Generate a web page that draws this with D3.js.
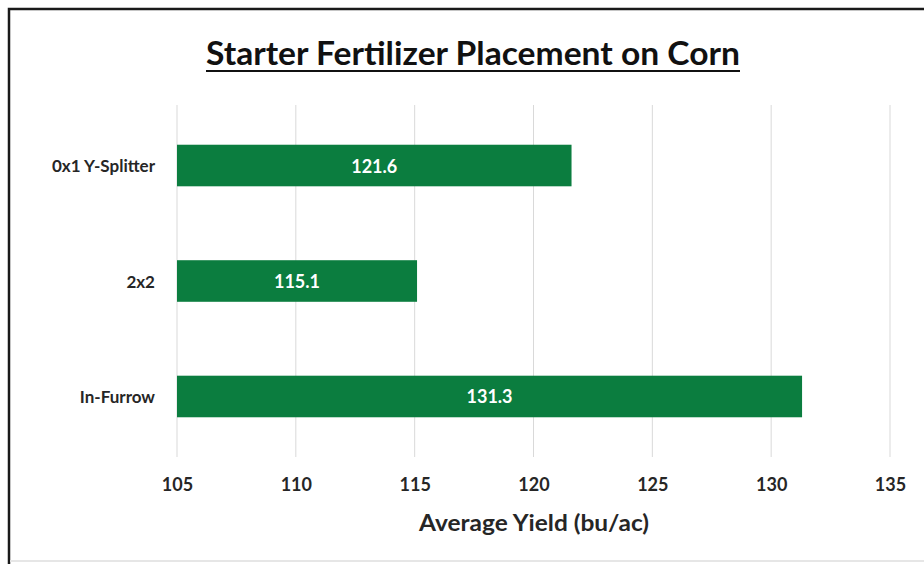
<!DOCTYPE html>
<html>
<head>
<meta charset="utf-8">
<script src="https://cdn.jsdelivr.net/npm/d3@7"></script>
<style>
  body { margin: 0; background: #fff; }
  svg { display: block; font-family: Lato, "Open Sans", sans-serif; }
</style>
</head>
<body>
<script>
// 数据
const categories = ['0x1 Y-Splitter', '2x2', 'In-Furrow'];
const yields = [121.6, 115.1, 131.3];
const xTicks = [105, 110, 115, 120, 125, 130, 135];

const width = 924, height = 564;
const margin = { top: 105, right: 31, bottom: 107, left: 177 };

const svg = d3.select('body').append('svg')
    .attr('width', width)
    .attr('height', height);

// 外框
svg.append('rect')
    .attr('x', 9).attr('y', 9)
    .attr('width', width + 10).attr('height', height + 10)
    .attr('fill', '#fff')
    .attr('stroke', '#1a1a1a')
    .attr('stroke-width', 2.5);
svg.append('line')
    .attr('x1', 10).attr('x2', width)
    .attr('y1', 561).attr('y2', 561)
    .attr('stroke', '#e6e6e6')
    .attr('stroke-width', 2);

const x = d3.scaleLinear()
    .domain([105, 135])
    .range([margin.left, width - margin.right - 3]);

const y = d3.scaleBand()
    .domain(categories)
    .range([margin.top, height - margin.bottom])
    .paddingInner(0.64)
    .paddingOuter(0.344);

// 网格线
svg.append('g')
    .selectAll('line')
    .data(xTicks)
    .enter().append('line')
    .attr('x1', d => x(d)).attr('x2', d => x(d))
    .attr('y1', margin.top).attr('y2', height - margin.bottom)
    .attr('stroke', '#d9d9d9')
    .attr('stroke-width', 1);

// 条形
svg.selectAll('.bar')
    .data(categories)
    .enter().append('rect')
    .attr('class', 'bar')
    .attr('x', x(105))
    .attr('y', d => y(d))
    .attr('width', (d, i) => x(yields[i]) - x(105))
    .attr('height', y.bandwidth())
    .attr('fill', '#0b7d3f');

// 条形数值
svg.selectAll('.val')
    .data(categories)
    .enter().append('text')
    .attr('class', 'val')
    .attr('x', (d, i) => (x(105) + x(yields[i])) / 2)
    .attr('y', d => y(d) + y.bandwidth() / 2)
    .attr('text-anchor', 'middle')
    .attr('dominant-baseline', 'central')
    .attr('fill', '#fff')
    .style('font-size', '18px')
    .style('font-weight', 'bold')
    .text((d, i) => yields[i].toFixed(1));

// y轴标签
svg.selectAll('.cat')
    .data(categories)
    .enter().append('text')
    .attr('class', 'cat')
    .attr('x', 155)
    .attr('y', d => y(d) + y.bandwidth() / 2)
    .attr('text-anchor', 'end')
    .attr('dominant-baseline', 'central')
    .attr('fill', '#262626')
    .style('font-size', '17px')
    .style('font-weight', 'bold')
    .text(d => d);

// x轴
const xAxis = svg.append('g')
    .attr('transform', `translate(0, ${height - margin.bottom})`)
    .call(d3.axisBottom(x).tickValues(xTicks).tickSize(0).tickPadding(21));
xAxis.select('.domain').remove();
xAxis.selectAll('text')
    .attr('fill', '#262626')
    .style('font-family', 'Lato, sans-serif')
    .style('font-size', '18px')
    .style('font-weight', 'bold');

// 轴标题
svg.append('text')
    .attr('x', 534)
    .attr('y', 522)
    .attr('text-anchor', 'middle')
    .attr('dominant-baseline', 'central')
    .attr('fill', '#262626')
    .style('font-size', '23px')
    .style('font-weight', 'bold')
    .attr('textLength', 230)
    .attr('lengthAdjust', 'spacingAndGlyphs')
    .text('Average Yield (bu/ac)');

// 标题
const title = svg.append('text')
    .attr('x', 473)
    .attr('y', 65)
    .attr('text-anchor', 'middle')
    .attr('fill', '#111')
    .style('font-size', '33px')
    .style('font-weight', 'bold')
    .attr('textLength', 534)
    .attr('lengthAdjust', 'spacingAndGlyphs')
    .text('Starter Fertilizer Placement on Corn');

svg.append('line')
    .attr('x1', 206).attr('x2', 740)
    .attr('y1', 71).attr('y2', 71)
    .attr('stroke', '#111')
    .attr('stroke-width', 2);
</script>
</body>
</html>
